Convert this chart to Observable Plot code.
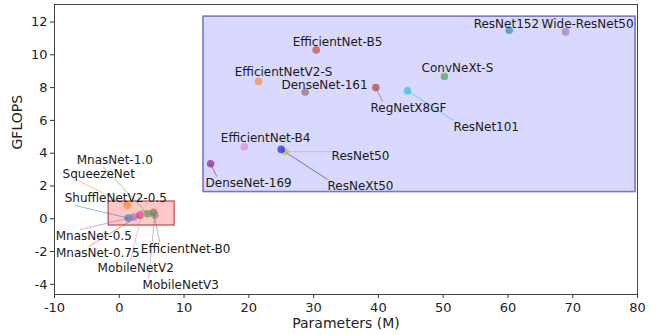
<!DOCTYPE html>
<html>
<head>
<meta charset="utf-8">
<script src="https://cdn.jsdelivr.net/npm/d3@7"></script>
<script src="https://cdn.jsdelivr.net/npm/@observablehq/plot@0.6"></script>
<style>
  body { margin: 0; background: #fff; }
  #chart svg { display: block; }
</style>
</head>
<body>
<div id="chart"></div>
<script>
// Model names, parameter counts (millions) and compute (GFLOPs)
const models = [
  "ShuffleNetV2-0.5", "SqueezeNet", "MnasNet-1.0", "MnasNet-0.75", "MnasNet-0.5",
  "EfficientNet-B0", "MobileNetV2", "MobileNetV3", "ResNet50", "ResNet101",
  "ResNet152", "EfficientNetV2-S", "ConvNeXt-S", "EfficientNet-B5", "Wide-ResNet50",
  "DenseNet-161", "EfficientNet-B4", "DenseNet-169", "RegNetX8GF", "ResNeXt50"
];
const params = [1.37, 1.25, 4.38, 3.17, 2.22, 5.29, 3.5, 5.48, 25.6, 44.5,
                60.2, 21.5, 50.2, 30.4, 68.9, 28.7, 19.3, 14.1, 39.6, 25.0];
const gflops = [0.04, 0.82, 0.31, 0.21, 0.1, 0.39, 0.3, 0.22, 4.09, 7.8,
                11.5, 8.37, 8.68, 10.3, 11.4, 7.73, 4.39, 3.36, 8.0, 4.23];
const colors = [
  "#1f77b4", "#ff7f0e", "#2ca02c", "#d62728", "#9467bd",
  "#8c564b", "#e377c2", "#7f7f7f", "#bcbd22", "#17becf",
  "#1f77b4", "#ff7f0e", "#2ca02c", "#d62728", "#9467bd",
  "#8c564b", "#e377c2", "#800080", "#a52a2a", "#0000ff"
];

// Where each name sits (centre of the text, in data units)
const labelX = [-0.55, -3.17, -0.7, -3.32, -3.94, 10.25, 2.54, 9.48, 37.24, 56.66,
                59.76, 25.36, 52.2, 33.69, 72.3, 31.69, 22.6, 19.97, 44.64, 37.24];
const labelY = [1.24, 2.71, 3.58, -2.12, -1.08, -1.85, -2.99, -4.08, 3.8, 5.57,
                11.9, 8.93, 9.16, 10.75, 11.9, 8.18, 4.9, 2.15, 6.73, 1.97];
// Fraction along the text width where a leader line meets it (null: no leader)
const tether = [0.1, 0.23, 0.35, 0.39, 0.32, 0.21, 0.43, 0.08, 0, 0,
                null, null, null, null, null, null, null, 0.13, 0.16, 0];

// Highlighted groups: small/mobile models and large models
const groupX1 = [13, -1.63];
const groupX2 = [79.7, 8.55];
const groupY1 = [1.63, -0.41];
const groupY2 = [12.33, 1.05];
const groupFill = ["blue", "red"];
const groupStroke = ["#7676c4", "#cc6f6f"];

const xTicks = [-10, 0, 10, 20, 30, 40, 50, 60, 70, 80];
const yTicks = [-4, -2, 0, 2, 4, 6, 8, 10, 12];
const xLabel = "Parameters (M)";
const yLabel = "GFLOPS";

const W = 662, H = 335;
const margin = {left: 54, right: 25, top: 4, bottom: 41};
const xDomain = [-10, 80];
const yDomain = [-4.62, 13.07];
const labelFont = 12;

const points = models.map((m, i) => ({name: m, x: params[i], y: gflops[i], color: colors[i]}));
const labels = models.map((m, i) => ({name: m, x: labelX[i], y: labelY[i], tether: tether[i], px: params[i], py: gflops[i], color: colors[i]}));
const groups = groupX1.map((x1, i) => ({x1, x2: groupX2[i], y1: groupY1[i], y2: groupY2[i], fill: groupFill[i], stroke: groupStroke[i]}));

// Leader lines end on the edge of each label's text box
const kx = (W - margin.left - margin.right) / (xDomain[1] - xDomain[0]);
const ky = (H - margin.top - margin.bottom) / (yDomain[1] - yDomain[0]);
const ctx = document.createElement("canvas").getContext("2d");
ctx.font = `${labelFont}px "DejaVu Sans"`;
const clamp = (v, a, b) => Math.max(a, Math.min(b, v));
const leaders = labels.filter(d => d.tether != null).map(d => {
  const hw = ctx.measureText(d.name).width / 2 / kx;
  const hh = labelFont * 0.58 / ky;
  const x2 = d.tether > 0 ? d.x - hw + d.tether * 2 * hw : clamp(d.px, d.x - hw, d.x + hw);
  const y2 = clamp(d.py, d.y - hh, d.y + hh);
  return {x1: d.px, y1: d.py, x2, y2, color: d.color};
});

const chart = Plot.plot({
  width: W,
  height: H,
  marginLeft: margin.left,
  marginRight: margin.right,
  marginTop: margin.top,
  marginBottom: margin.bottom,
  style: {fontFamily: "DejaVu Sans", fontSize: "13px", color: "#222", background: "#fff"},
  x: {domain: xDomain},
  y: {domain: yDomain},
  marks: [
    Plot.rect(groups, {x1: "x1", x2: "x2", y1: "y1", y2: "y2", fill: "fill", fillOpacity: d => d.fill === "blue" ? 0.15 : 0.22, stroke: "stroke", strokeWidth: 1.6}),
    Plot.link(leaders, {x1: "x1", y1: "y1", x2: "x2", y2: "y2", stroke: "color", strokeOpacity: 0.5, strokeWidth: 1}),
    Plot.dot(points, {x: "x", y: "y", r: 3.8, fill: "color", fillOpacity: 0.6}),
    Plot.text(labels, {x: "x", y: "y", text: "name", fontSize: labelFont, fill: "#1a1a1a", textAnchor: "middle"}),
    Plot.axisX({ticks: xTicks, tickFormat: d => String(d), tickSize: 4, tickPadding: 4, fontSize: 13, label: null, stroke: "#333"}),
    Plot.axisY({ticks: yTicks, tickFormat: d => String(d), tickSize: 4, tickPadding: 3, fontSize: 13, label: null, stroke: "#333"}),
    Plot.frame({stroke: "#444", strokeWidth: 1}),
    Plot.text([xLabel], {frameAnchor: "bottom", dy: 33, text: d => d, fontSize: 14, fill: "#222"}),
    Plot.text([yLabel], {frameAnchor: "left", dx: -37, rotate: -90, text: d => d, fontSize: 14, fill: "#222"})
  ]
});
chart.setAttribute("fill", "currentColor");
document.getElementById("chart").appendChild(chart);
</script>
</body>
</html>
